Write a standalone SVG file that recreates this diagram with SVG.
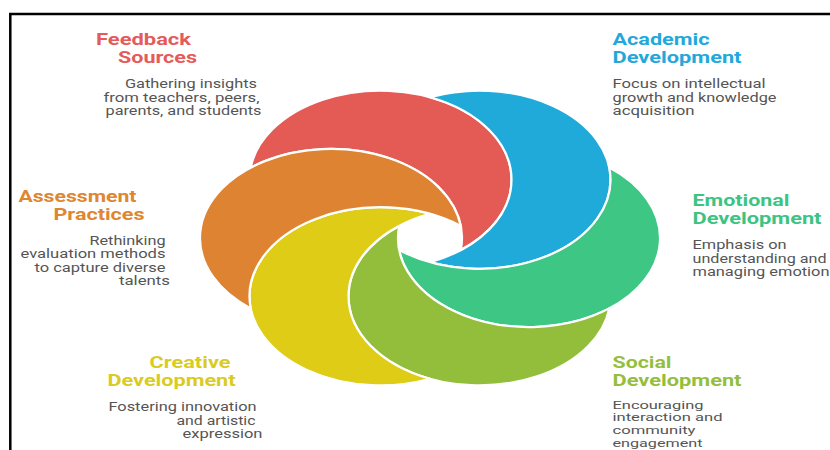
<svg xmlns="http://www.w3.org/2000/svg" width="830" height="450" viewBox="0 0 830 450">
  <style>
    .petal { stroke: #ffffff; stroke-width: 2.2; stroke-linejoin: round; }
    .title { font-family: Roboto, "Liberation Sans", "DejaVu Sans", sans-serif; font-weight: bold; font-size: 16px; }
    .body { font-family: Roboto, "Liberation Sans", "DejaVu Sans", sans-serif; font-size: 12px; fill: #555555; }
    .tight { font-size: 11px; }
    .frame { fill: none; stroke: #000000; stroke-width: 2.5; }
  </style>

  <rect width="830" height="450" fill="#ffffff"/>
  <path class="frame" d="M10.3 452 V14 H832"/>

  <!-- Six crescents: each ellipse minus its neighbour, hub at (430,238) -->
  <g id="spiral">
    <g id="petal-feedback">
      <path class="petal" fill="#E45A55" d="M460.79 250.09 A131 89.08 0 1 0 250.71 167.61 A131 89.08 0 0 1 460.79 250.09 Z"/>
    </g>
    <g id="petal-academic">
      <path class="petal" fill="#20AAD9" d="M430 262.18 A131 89.08 0 1 0 430 97.22 A131 89.08 0 0 1 430 262.18 Z"/>
    </g>
    <g id="petal-emotional">
      <path class="petal" fill="#3DC684" d="M399.21 250.09 A131 89.08 0 1 0 609.29 167.61 A131 89.08 0 0 1 399.21 250.09 Z"/>
    </g>
    <g id="petal-social">
      <path class="petal" fill="#93BE3B" d="M399.21 225.91 A131 89.08 0 1 0 609.29 308.39 A131 89.08 0 0 1 399.21 225.91 Z"/>
    </g>
    <g id="petal-creative">
      <path class="petal" fill="#DFCC17" d="M430 213.83 A131 89.08 0 1 0 430 378.78 A131 89.08 0 0 1 430 213.83 Z"/>
    </g>
    <g id="petal-assessment">
      <path class="petal" fill="#DD8331" d="M460.79 225.91 A131 89.08 0 1 0 250.71 308.39 A131 89.08 0 0 1 460.79 225.91 Z"/>
    </g>
  </g>

  <g id="label-feedback">
    <text class="title" fill="#E55B5B" x="96" y="45" textLength="95" lengthAdjust="spacingAndGlyphs">Feedback</text>
    <text class="title" fill="#E55B5B" x="118" y="63" textLength="79" lengthAdjust="spacingAndGlyphs">Sources</text>
    <text class="body" x="125" y="88" textLength="132" lengthAdjust="spacingAndGlyphs">Gathering insights</text>
    <text class="body" x="103.5" y="101.5" textLength="156" lengthAdjust="spacingAndGlyphs">from teachers, peers,</text>
    <text class="body" x="105.5" y="115" textLength="156" lengthAdjust="spacingAndGlyphs">parents, and students</text>
  </g>

  <g id="label-academic">
    <text class="title" fill="#22A8DB" x="612.5" y="45" textLength="97" lengthAdjust="spacingAndGlyphs">Academic</text>
    <text class="title" fill="#22A8DB" x="612.5" y="63" textLength="129" lengthAdjust="spacingAndGlyphs">Development</text>
    <text class="body" x="612.5" y="88" textLength="153" lengthAdjust="spacingAndGlyphs">Focus on intellectual</text>
    <text class="body" x="612.5" y="101.5" textLength="164" lengthAdjust="spacingAndGlyphs">growth and knowledge</text>
    <text class="body" x="612.5" y="115" textLength="82" lengthAdjust="spacingAndGlyphs">acquisition</text>
  </g>

  <g id="label-emotional">
    <text class="title" fill="#3DC483" x="692.5" y="206" textLength="97" lengthAdjust="spacingAndGlyphs">Emotional</text>
    <text class="title" fill="#3DC483" x="692.5" y="224" textLength="129" lengthAdjust="spacingAndGlyphs">Development</text>
    <text class="body" x="692.5" y="249" textLength="94" lengthAdjust="spacingAndGlyphs">Emphasis on</text>
    <text class="body" x="692.5" y="262.5" textLength="134" lengthAdjust="spacingAndGlyphs">understanding and</text>
    <text class="body" x="692.5" y="276" textLength="137" lengthAdjust="spacingAndGlyphs">managing emotion</text>
  </g>

  <g id="label-social">
    <text class="title" fill="#93BF3D" x="612.5" y="368" textLength="59" lengthAdjust="spacingAndGlyphs">Social</text>
    <text class="title" fill="#93BF3D" x="612.5" y="386" textLength="129" lengthAdjust="spacingAndGlyphs">Development</text>
    <text class="body tight" x="612.5" y="408.5" textLength="91" lengthAdjust="spacingAndGlyphs">Encouraging</text>
    <text class="body tight" x="612.5" y="421.3" textLength="110" lengthAdjust="spacingAndGlyphs">interaction and</text>
    <text class="body tight" x="612.5" y="434.1" textLength="83" lengthAdjust="spacingAndGlyphs">community</text>
    <text class="body tight" x="612.5" y="446.9" textLength="90" lengthAdjust="spacingAndGlyphs">engagement</text>
  </g>

  <g id="label-creative">
    <text class="title" fill="#DACB1F" x="149.5" y="368" textLength="81" lengthAdjust="spacingAndGlyphs">Creative</text>
    <text class="title" fill="#DACB1F" x="107.5" y="386" textLength="128" lengthAdjust="spacingAndGlyphs">Development</text>
    <text class="body" x="108.5" y="411" textLength="148" lengthAdjust="spacingAndGlyphs">Fostering innovation</text>
    <text class="body" x="176.5" y="424.5" textLength="79" lengthAdjust="spacingAndGlyphs">and artistic</text>
    <text class="body" x="182.5" y="438" textLength="80" lengthAdjust="spacingAndGlyphs">expression</text>
  </g>

  <g id="label-assessment">
    <text class="title" fill="#DF8631" x="18.5" y="202" textLength="118" lengthAdjust="spacingAndGlyphs">Assessment</text>
    <text class="title" fill="#DF8631" x="53.5" y="220" textLength="91" lengthAdjust="spacingAndGlyphs">Practices</text>
    <text class="body" x="89.5" y="244.5" textLength="76" lengthAdjust="spacingAndGlyphs">Rethinking</text>
    <text class="body" x="20.5" y="258" textLength="145" lengthAdjust="spacingAndGlyphs">evaluation methods</text>
    <text class="body" x="34.5" y="271.5" textLength="131" lengthAdjust="spacingAndGlyphs">to capture diverse</text>
    <text class="body" x="119" y="285" textLength="51" lengthAdjust="spacingAndGlyphs">talents</text>
  </g>
</svg>
